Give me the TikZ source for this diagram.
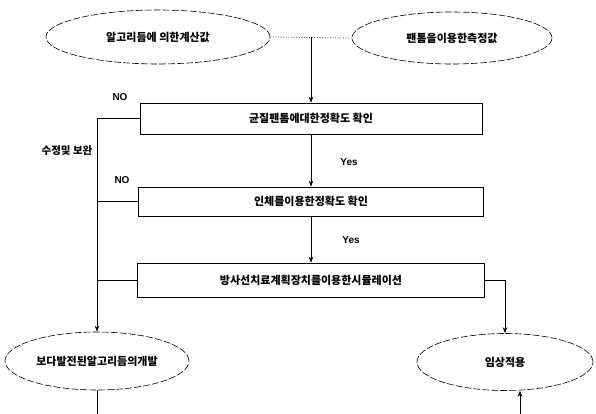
\documentclass[tikz,border=0pt]{standalone}
\usepackage{fontspec}
\setmainfont{Liberation Sans}
\newfontfamily\kr{Noto Sans CJK KR}
\usetikzlibrary{shapes.geometric,arrows.meta}
\tikzset{
  oval/.style={ellipse,draw,line width=0.6pt,dash pattern=on 7pt off 2pt,inner sep=0pt,font=\kr\bfseries\fontsize{11}{13}\selectfont},
  stepbox/.style={rectangle,draw,line width=0.6pt,inner sep=0pt,font=\kr\bfseries\fontsize{11}{13}\selectfont},
  conn/.style={line width=0.6pt},
  arr/.style={line width=0.6pt,-{Stealth[length=6pt,width=4.5pt]}},
  lab/.style={font=\bfseries\fontsize{10}{11}\selectfont,inner sep=0pt},
  krlab/.style={font=\kr\bfseries\fontsize{10.5}{12}\selectfont,inner sep=0pt}
}
\begin{document}
\begin{tikzpicture}[x=1pt,y=-1pt]
\useasboundingbox (0,0) rectangle (596,414);
\node[oval,minimum width=224pt,minimum height=54pt] (e1) at (158,37) {알고리듬에 의한계산값};
\node[oval,minimum width=200pt,minimum height=52pt] (e2) at (452,38) {팬톰을이용한측정값};
\node[stepbox,minimum width=342pt,minimum height=31pt] (b1) at (311,118.5) {균질팬톰에대한정확도 확인};
\node[stepbox,minimum width=345pt,minimum height=29pt] (b2) at (311,201.5) {인체를이용한정확도 확인};
\node[stepbox,minimum width=347pt,minimum height=34pt] (b3) at (311,280) {방사선치료계획장치를이용한시뮬레이션};
\node[oval,minimum width=184pt,minimum height=58pt] (e3) at (97,361) {보다발전된알고리듬의개발};
\node[oval,minimum width=176pt,minimum height=57pt] (e4) at (505,362) {임상적용};
\coordinate (j) at (311,37);
\coordinate (bl) at (97,414);
\coordinate (br) at (520,414);
\draw[conn,dotted,line width=0.8pt] (e1.east) -- (e2.west);
\draw[arr] (j) -- (b1.north);
\draw[arr] (b1.south) -- (b2.north);
\draw[arr] (b2.south) -- (b3.north);
\draw[arr] (b1.west) -- (b1.west -| e3.north) -- (e3.north);
\draw[conn] (b2.west) -- (b2.west -| e3.north);
\draw[conn] (b3.west) -- (b3.west -| e3.north);
\draw[arr] (b3.east) -- (b3.east -| e4.north) -- (e4.north);
\draw[conn] (e3.south) -- (bl);
\draw[arr] (br) -- (br |- e4.south);
\node[lab] (no1) at (120,97) {NO};
\node[lab] (no2) at (122,180) {NO};
\node[lab] (yes1) at (349,162) {Yes};
\node[lab] (yes2) at (351,240) {Yes};
\node[krlab] (fix) at (67,151) {수정및 보완};
\end{tikzpicture}
\end{document}
